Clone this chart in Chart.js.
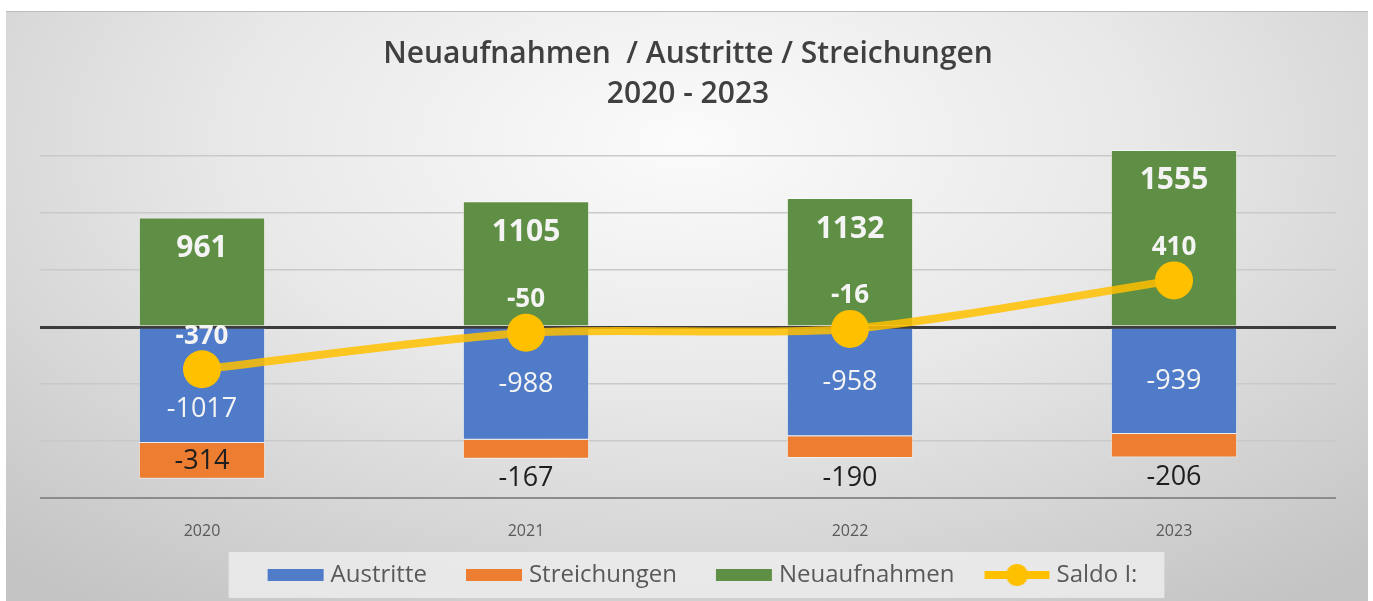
<!DOCTYPE html>
<html>
<head>
<meta charset="utf-8">
<script src="https://cdn.jsdelivr.net/npm/chart.js@4"></script>
<style>
    html, body { margin: 0; padding: 0; background: #fff; }
    #wrap {
        position: absolute; left: 6px; top: 11px; width: 1362px; height: 590px;
        background: radial-gradient(ellipse 75% 95% at 50% 22%, #fbfbfb 0%, #e8e8e8 45%, #c4c4c4 100%);
        border-top: 1px solid #bdbdbd;
    }
    canvas { display: block; }
</style>
</head>
<body>
<div id="wrap"><canvas id="chart-mitglieder"></canvas></div>
<script>
/* Daten */
const years = ["2020", "2021", "2022", "2023"];
const austritte = [-1017, -988, -958, -939];
const streichungen = [-314, -167, -190, -206];
const neuaufnahmen = [961, 1105, 1132, 1555];
const saldo = [-370, -50, -16, 410];
const yTicks = [-1500, -1000, -500, 0, 500, 1000, 1500];

const BLUE = "#4f7bc8";
const ORANGE = "#ed7d31";
const GREEN = "#5f8f45";
const YELLOW = "#ffc000";
const FONT = "'Open Sans', sans-serif";

/* Legendensymbole als kleine Canvas (Breite 98, zentriert auf Box 80) */
function swatch(color) {
    const c = document.createElement("canvas");
    c.width = 98; c.height = 22;
    const g = c.getContext("2d");
    g.fillStyle = color;
    g.fillRect(38, 5, 56, 12);
    return c;
}
function lineSwatch() {
    const c = document.createElement("canvas");
    c.width = 98; c.height = 22;
    const g = c.getContext("2d");
    g.strokeStyle = YELLOW;
    g.lineWidth = 8;
    g.beginPath(); g.moveTo(29, 11); g.lineTo(94, 11); g.stroke();
    g.fillStyle = YELLOW;
    g.beginPath(); g.arc(61.5, 11, 11, 0, Math.PI * 2); g.fill();
    return c;
}
const legendSymbols = [swatch(BLUE), swatch(ORANGE), swatch(GREEN), lineSwatch()];

/* Datenbeschriftungen */
const labelPlugin = {
    id: "labels",
    afterDatasetsDraw(chart) {
        const ctx = chart.ctx;
        const metaB = chart.getDatasetMeta(0).data;
        const metaO = chart.getDatasetMeta(1).data;
        const metaG = chart.getDatasetMeta(2).data;
        const metaS = chart.getDatasetMeta(3).data;
        ctx.save();
        ctx.textAlign = "center";
        ctx.textBaseline = "middle";
        years.forEach((y, i) => {
            // Neuaufnahmen
            const g = metaG[i];
            ctx.font = "bold 30px " + FONT;
            ctx.fillStyle = "#f4f4f4";
            ctx.fillText(String(neuaufnahmen[i]), g.x, Math.min(g.y, g.base) + 31);

            // Austritte (unter den Saldo-Punkt schieben, wenn nötig)
            const b = metaB[i];
            const s = metaS[i];
            const mid = (b.y + b.base) / 2;
            ctx.font = "27px " + FONT;
            ctx.fillStyle = "#f4f4f4";
            ctx.fillText(String(austritte[i]), b.x, Math.max(mid, s.y + 40));

            // Streichungen
            const o = metaO[i];
            const top = Math.min(o.y, o.base), bot = Math.max(o.y, o.base);
            ctx.font = "27px " + FONT;
            ctx.fillStyle = "#1e1e1e";
            if (bot - top > 30) {
                ctx.fillText(String(streichungen[i]), o.x, (top + bot) / 2);
            } else {
                ctx.fillText(String(streichungen[i]), o.x, bot + 20);
            }

            // Saldo
            ctx.font = "bold 26px " + FONT;
            ctx.fillStyle = "#f4f4f4";
            ctx.fillText(String(saldo[i]), s.x, s.y - 33);
        });
        ctx.restore();
    }
};

/* heller Kasten hinter der Legende */
const legendBox = {
    id: "legendBox",
    beforeDraw(chart) {
        const boxes = chart.legend && chart.legend.legendHitBoxes;
        if (!boxes || !boxes.length) return;
        const left = Math.min(...boxes.map(h => h.left)) - 10;
        const right = Math.max(...boxes.map(h => h.left + h.width)) + 27;
        const cy = boxes[0].top + boxes[0].height / 2;
        const ctx = chart.ctx;
        ctx.save();
        ctx.fillStyle = "rgba(236,236,236,0.85)";
        ctx.fillRect(left, cy - 23, right - left, 46);
        ctx.restore();
    }
};

const ctxMitglieder = document.getElementById("chart-mitglieder").getContext("2d");
const chartMitglieder = new Chart(ctxMitglieder, {
    type: "bar",
    data: {
        labels: years,
        datasets: [
            { label: "Austritte", data: austritte, backgroundColor: BLUE, borderColor: "rgba(255,255,255,0.55)", borderWidth: 1, order: 1 },
            { label: "Streichungen", data: streichungen, backgroundColor: ORANGE, borderColor: "rgba(255,255,255,0.55)", borderWidth: 1, order: 1 },
            { label: "Neuaufnahmen", data: neuaufnahmen, backgroundColor: GREEN, borderColor: "rgba(255,255,255,0.55)", borderWidth: 1, order: 1 },
            {
                type: "line", label: "Saldo I:", data: saldo, stack: "saldo", order: 0,
                borderColor: "rgba(255,192,0,0.85)", borderWidth: 8, tension: 0.25,
                pointRadius: 19, pointHoverRadius: 19, pointBackgroundColor: YELLOW, pointBorderWidth: 0
            }
        ]
    },
    options: {
        responsive: true,
        maintainAspectRatio: false,
        animation: false,
        datasets: { bar: { categoryPercentage: 1, barPercentage: 0.39 } },
        layout: { padding: { left: 34, right: 32, top: 0, bottom: 5 } },
        scales: {
            x: {
                stacked: true,
                grid: { display: false },
                border: { display: false },
                ticks: { color: "#595959", font: { family: FONT, size: 16 }, padding: 16 },
                afterFit: (scale) => { scale.height = 55; }
            },
            y: {
                stacked: true,
                min: -1500,
                max: 1700,
                afterBuildTicks: (scale) => { scale.ticks = yTicks.map(v => ({ value: v })); },
                ticks: { display: false },
                border: { display: false },
                grid: {
                    drawTicks: false,
                    color: (c) => {
                        const v = c.tick.value;
                        if (v === 0) return "#3c3c3c";
                        if (v === -1500) return "#8c8c8c";
                        return "#c9c9c9";
                    },
                    lineWidth: (c) => (c.tick.value === 0 ? 3 : (c.tick.value === -1500 ? 2 : 1.5))
                }
            }
        },
        plugins: {
            title: {
                display: true,
                text: ["Neuaufnahmen  / Austritte / Streichungen", "2020 - 2023"],
                color: "#404040",
                font: { family: FONT, size: 30, weight: "600", lineHeight: 1.34 },
                padding: { top: 22, bottom: 19 }
            },
            legend: {
                position: "bottom",
                labels: {
                    color: "#595959",
                    font: { family: FONT, size: 24 },
                    usePointStyle: true,
                    pointStyleWidth: 80,
                    boxHeight: 20,
                    padding: 10,
                    generateLabels: (chart) => chart.data.datasets.map((ds, i) => ({
                        text: ds.label,
                        pointStyle: legendSymbols[i],
                        fontColor: "#595959",
                        lineWidth: 0,
                        datasetIndex: i,
                        hidden: false
                    }))
                }
            },
            tooltip: { enabled: false }
        }
    },
    plugins: [labelPlugin, legendBox]
});
</script>
</body>
</html>
